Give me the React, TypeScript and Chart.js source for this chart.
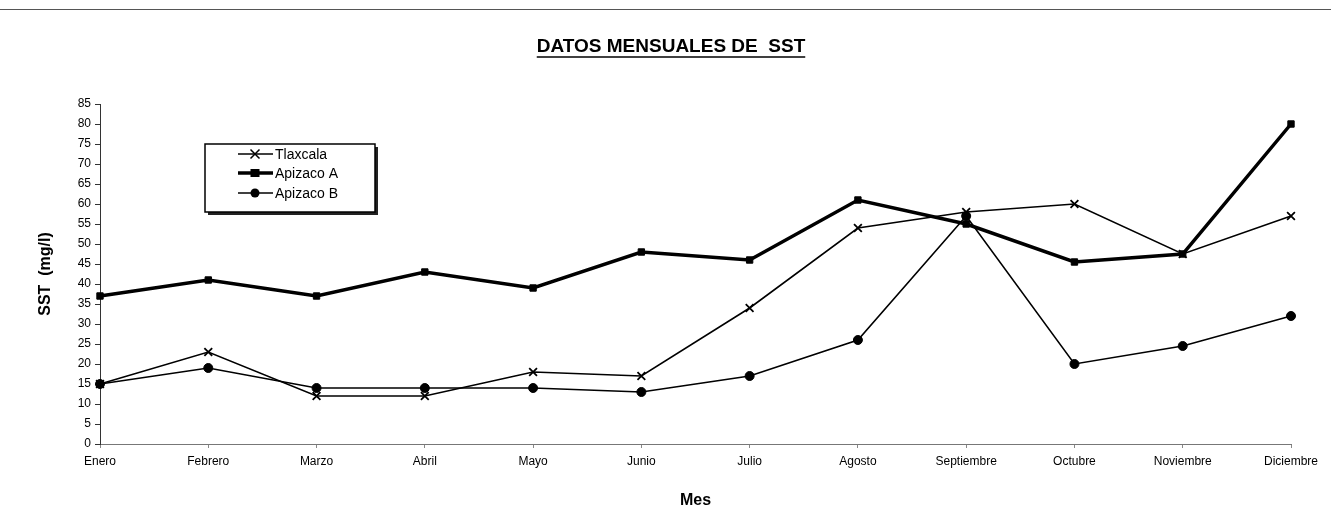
import React, { useEffect, useRef } from "react";
import { Chart, registerables } from "chart.js";

Chart.register(...registerables);

const months = ["Enero", "Febrero", "Marzo", "Abril", "Mayo", "Junio", "Julio", "Agosto", "Septiembre", "Octubre", "Noviembre", "Diciembre"];
const tlaxcala = [15, 23, 12, 12, 18, 17, 34, 54, 58, 60, 47.5, 57];
const apizacoA = [37, 41, 37, 43, 39, 48, 46, 61, 55, 45.5, 47.5, 80];
const apizacoB = [15, 19, 14, 14, 14, 13, 17, 26, 57, 20, 24.5, 32];
const yMin = 0;
const yMax = 85;
const yStep = 5;
const titleText = "DATOS MENSUALES DE  SST";
const yTitle = "SST  (mg/l)";
const xTitle = "Mes";

const FONT = "'Liberation Sans', Arial, sans-serif";

const decorPlugin = {
  id: "decor",
  afterDraw(chart: any) {
    const ctx = chart.ctx;
    ctx.save();
    // scanned top rule
    ctx.strokeStyle = "#555";
    ctx.lineWidth = 1.2;
    ctx.beginPath();
    ctx.moveTo(0, 9.5);
    ctx.lineTo(chart.width, 9.5);
    ctx.stroke();

    // title with underline
    ctx.fillStyle = "#000";
    ctx.font = `bold 19px ${FONT}`;
    ctx.textAlign = "center";
    ctx.textBaseline = "middle";
    const tx = 671;
    const ty = 47;
    ctx.fillText(titleText, tx, ty);
    const w = ctx.measureText(titleText).width;
    ctx.lineWidth = 1.5;
    ctx.strokeStyle = "#000";
    ctx.beginPath();
    ctx.moveTo(tx - w / 2, ty + 10);
    ctx.lineTo(tx + w / 2, ty + 10);
    ctx.stroke();

    // legend box
    const bx = 205, by = 144, bw = 170, bh = 68;
    ctx.fillStyle = "#222";
    ctx.fillRect(bx + 3, by + 3, bw, bh);
    ctx.fillStyle = "#fff";
    ctx.fillRect(bx, by, bw, bh);
    ctx.lineWidth = 1.5;
    ctx.strokeStyle = "#000";
    ctx.strokeRect(bx, by, bw, bh);

    const rows = [154, 173, 193];
    chart.data.datasets.forEach((ds: any, i: number) => {
      const y = rows[i];
      ctx.strokeStyle = "#000";
      ctx.lineWidth = ds.borderWidth;
      ctx.beginPath();
      ctx.moveTo(238, y);
      ctx.lineTo(273, y);
      ctx.stroke();
      const cx = 255;
      ctx.fillStyle = "#000";
      ctx.lineWidth = 1.5;
      if (ds.pointStyle === "crossRot") {
        const r = 4.5;
        ctx.beginPath();
        ctx.moveTo(cx - r, y - r);
        ctx.lineTo(cx + r, y + r);
        ctx.moveTo(cx - r, y + r);
        ctx.lineTo(cx + r, y - r);
        ctx.stroke();
      } else if (ds.pointStyle === "rect") {
        ctx.fillRect(cx - 4.5, y - 4, 9, 8);
      } else {
        ctx.beginPath();
        ctx.arc(cx, y, 4.5, 0, Math.PI * 2);
        ctx.fill();
      }
      ctx.fillStyle = "#000";
      ctx.font = `14px ${FONT}`;
      ctx.textAlign = "left";
      ctx.textBaseline = "middle";
      ctx.fillText(ds.label, 275, y + 1);
    });
    ctx.restore();
  },
};

export default function App() {
  const ref = useRef<HTMLCanvasElement>(null);

  useEffect(() => {
    if (!ref.current) return;
    const chart = new Chart(ref.current, {
      type: "line",
      data: {
        labels: months,
        datasets: [
          {
            label: "Tlaxcala",
            data: tlaxcala,
            borderColor: "#000",
            backgroundColor: "#000",
            borderWidth: 1.6,
            pointStyle: "crossRot",
            pointRadius: 5.5,
            pointBorderWidth: 1.8,
            tension: 0,
          },
          {
            label: "Apizaco A",
            data: apizacoA,
            borderColor: "#000",
            backgroundColor: "#000",
            borderWidth: 3.5,
            pointStyle: "rect",
            pointRadius: 4.5,
            pointBorderWidth: 1,
            tension: 0,
          },
          {
            label: "Apizaco B",
            data: apizacoB,
            borderColor: "#000",
            backgroundColor: "#000",
            borderWidth: 1.6,
            pointStyle: "circle",
            pointRadius: 4.5,
            pointBorderWidth: 1,
            tension: 0,
          },
        ],
      },
      options: {
        responsive: false,
        animation: false,
        layout: { padding: { left: 0, right: 40, top: 104, bottom: 0 } },
        plugins: {
          legend: { display: false },
          title: { display: false },
          tooltip: { enabled: false },
        },
        scales: {
          x: {
            offset: false,
            afterFit: (s: any) => {
              s.height = 86;
            },
            grid: { display: true, drawOnChartArea: false, tickLength: 4, color: "#888" },
            border: { display: true, color: "#777", dash: [5, 6], width: 1 },
            ticks: {
              color: "#000",
              font: { family: FONT, size: 12 },
              padding: 6,
              maxRotation: 0,
              autoSkip: false,
            },
            title: {
              display: true,
              text: xTitle,
              color: "#000",
              font: { family: FONT, size: 16, weight: "bold" },
              padding: { top: 0, bottom: 20 },
            },
          },
          y: {
            min: yMin,
            max: yMax,
            afterFit: (s: any) => {
              s.width = 100;
            },
            grid: { display: true, drawOnChartArea: false, tickLength: 5, color: "#333" },
            border: { display: true, color: "#333", dash: [3, 3], width: 1 },
            ticks: {
              stepSize: yStep,
              color: "#000",
              font: { family: FONT, size: 12 },
              padding: 4,
            },
            title: {
              display: true,
              text: yTitle,
              color: "#000",
              font: { family: FONT, size: 16, weight: "bold" },
              padding: { top: 36, bottom: 0 },
            },
          },
        },
      },
      plugins: [decorPlugin],
    });
    return () => chart.destroy();
  }, []);

  return (
    <div style={{ position: "absolute", left: 0, top: 0, width: 1331, height: 530, background: "#fff" }}>
      <canvas ref={ref} width={1331} height={530} />
    </div>
  );
}
